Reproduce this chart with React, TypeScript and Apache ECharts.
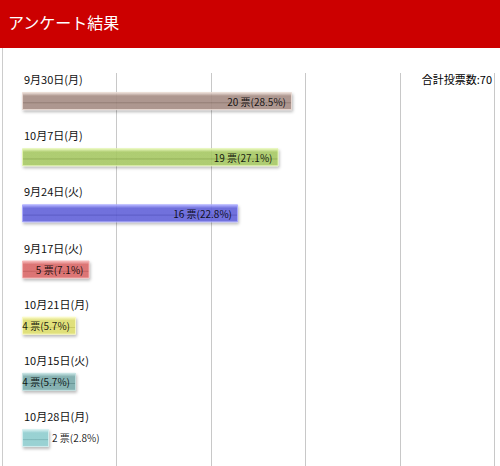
import React, { useEffect, useRef } from "react";
import * as echarts from "echarts";

const titleText = "アンケート結果";
const totalLabel = "合計投票数:70";
const categories = [
  "9月30日(月)",
  "10月7日(月)",
  "9月24日(火)",
  "9月17日(火)",
  "10月21日(月)",
  "10月15日(火)",
  "10月28日(月)",
];
const votes = [20, 19, 16, 5, 4, 4, 2];
const percents = ["28.5", "27.1", "22.8", "7.1", "5.7", "5.7", "2.8"];
// [light, base, dark]
const barColors = [
  ["#eadbd4", "#a88f86", "#8a7068"],
  ["#e4f6b0", "#a9cb66", "#8aab48"],
  ["#a8a8ff", "#6464dc", "#4a4ac0"],
  ["#f6b4b4", "#dc6a6a", "#c05050"],
  ["#fafac0", "#e0e070", "#c4c450"],
  ["#c0e0e0", "#7cadad", "#5e9090"],
  ["#d4f0f0", "#92d0d2", "#74b4b6"],
];
const axisMax = 35;
const axisInterval = 7;

const FONT = "'Noto Sans CJK JP', 'Noto Sans', sans-serif";

export default function App() {
  const ref = useRef<HTMLDivElement>(null);
  useEffect(() => {
    document.body.style.margin = "0";
    const chart = echarts.init(ref.current!, null, { renderer: "svg" });
    const data = votes.map((v, i) => {
      const c = barColors[i];
      const outside = v < 3;
      return {
        value: v,
        itemStyle: {
          color: new echarts.graphic.LinearGradient(0, 0, 0, 1, [
            { offset: 0, color: c[0] },
            { offset: 0.2, color: c[1] },
            { offset: 0.55, color: c[1] },
            { offset: 0.6, color: c[2] },
            { offset: 0.66, color: c[1] },
            { offset: 1, color: c[1] },
          ]),
          borderColor: c[0],
        },
        label: outside
          ? { position: "right", distance: 3 }
          : { position: "insideRight", distance: 6 },
      };
    });
    const nLines = axisMax / axisInterval + 1;
    const splitColors = Array.from({ length: nLines }, (_, k) =>
      k === 0 ? "rgba(0,0,0,0)" : "#c8c8c8"
    );
    chart.setOption({
      animation: false,
      textStyle: { fontFamily: FONT },
      graphic: [
        {
          type: "rect",
          shape: { x: 0, y: 0, width: 500, height: 48 },
          style: { fill: "#cc0000" },
          silent: true,
        },
        {
          type: "text",
          x: 8,
          y: 22,
          style: {
            text: titleText,
            fill: "#ffffff",
            font: `16px ${FONT}`,
            verticalAlign: "middle",
          },
        },
        {
          type: "line",
          shape: { x1: 2.5, y1: 48, x2: 2.5, y2: 466 },
          style: { stroke: "#cccccc", lineWidth: 1 },
        },
        {
          type: "text",
          right: 8,
          y: 73,
          style: {
            text: totalLabel,
            fill: "#000",
            font: `11px ${FONT}`,
            align: "right",
          },
        },
      ],
      grid: { left: 22, right: 5.5, top: 73, bottom: -4, containLabel: false },
      xAxis: {
        type: "value",
        min: 0,
        max: axisMax,
        interval: axisInterval,
        axisLabel: { show: false },
        axisLine: { show: false },
        axisTick: { show: false },
        splitLine: {
          show: true,
          lineStyle: { color: splitColors, width: 1 },
        },
      },
      yAxis: {
        type: "category",
        data: categories,
        inverse: true,
        axisLine: { show: false },
        axisTick: { show: false },
        splitLine: { show: false },
        axisLabel: {
          inside: true,
          margin: 2,
          color: "#111",
          fontSize: 11,
          fontFamily: FONT,
          verticalAlign: "bottom",
          lineHeight: 44,
        },
        z: 5,
      },
      series: [
        {
          type: "bar",
          data,
          barWidth: 18,
          itemStyle: {
            opacity: 0.88,
            borderWidth: 1,
            shadowColor: "rgba(0,0,0,0.3)",
            shadowBlur: 3,
            shadowOffsetX: 1,
            shadowOffsetY: 2,
          },
          label: {
            show: true,
            color: "#000",
            fontSize: 10,
            fontFamily: FONT,
            formatter: (p: any) => `${p.value} 票(${percents[p.dataIndex]}%)`,
          },
        },
      ],
    });
    return () => chart.dispose();
  }, []);
  return <div ref={ref} style={{ width: 500, height: 466 }} />;
}
